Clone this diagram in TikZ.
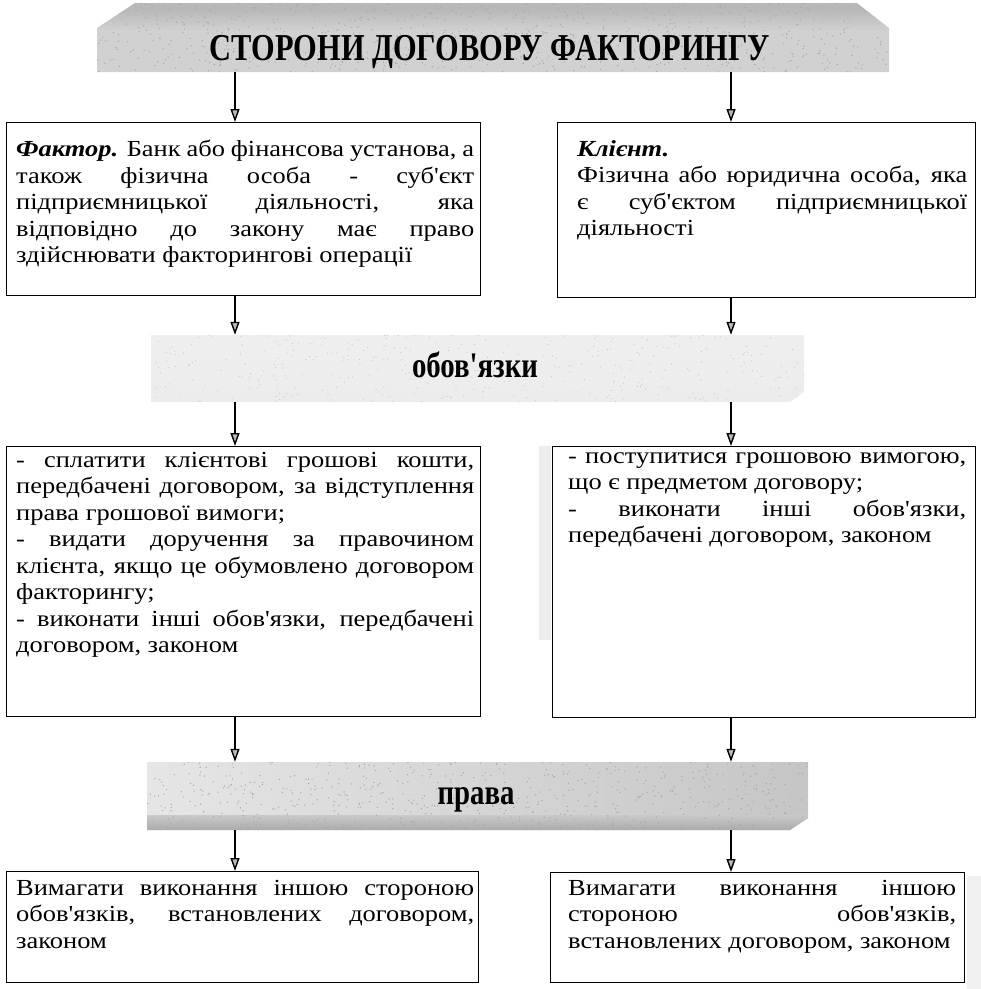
\documentclass[tikz,border=0pt]{standalone}
\usepackage{fontspec}
\usepackage{graphicx}
\usetikzlibrary{arrows.meta}
\newfontfamily\bodyfont{Liberation Serif}[FakeStretch=1.15]
\newfontfamily\headfont{Liberation Serif}[FakeStretch=0.8]
\pgfdeclareverticalshading{bshA}{100bp}{color(0bp)=(gray!66); color(12bp)=(gray!52); color(26bp)=(gray!36); color(55bp)=(gray!36); color(70bp)=(gray!55); color(100bp)=(gray!62)}
\pgfdeclareverticalshading{bshB}{100bp}{color(0bp)=(gray!50); color(12bp)=(gray!32); color(25bp)=(gray!15); color(100bp)=(gray!12)}
\tikzset{
  boxst/.style={draw, line width=1.3pt, inner sep=0pt, anchor=north west},
  txt/.style={anchor=north west, inner sep=0pt, align=justify,
    font={\bodyfont\fontsize{23}{26.5}\selectfont\parindent=0pt\tolerance=10000\hbadness=10000\hyphenpenalty=10000}},
  head/.style={anchor=base, inner sep=0pt, font={\headfont\bfseries\fontsize{36}{38}\selectfont}},
  anc/.style={inner sep=0pt, draw=none},
  arr/.style={line width=1.4pt, -{Triangle[length=13pt,width=9pt,fill=gray!55]}},
  smudge/.style={fill=gray!14, draw=none},
  speck/.style={fill=gray!70, draw=none}
}
\begin{document}
\begin{tikzpicture}[x=1pt,y=-1pt]
\useasboundingbox (0,0) rectangle (981,989);
\pgfmathsetseed{7}
% banner 1
\shade[shading=bshA] (97,72) -- (97,28) -- (135,3) -- (857,3) -- (889,28) -- (889,72) -- cycle;
\begin{scope}
  \clip (97,72) -- (97,28) -- (135,3) -- (857,3) -- (889,28) -- (889,72) -- cycle;
  \foreach \i in {1,...,700} {\fill[speck] ({97+792*rnd},{3+69*rnd}) circle (0.7pt);}
\end{scope}
\node[anc, minimum width=792pt, minimum height=69pt] (b1) at (493,37.5) {};
\node[head, font={\headfont\bfseries\fontsize{38}{40}\selectfont}] (t1) at (490,60) {СТОРОНИ ДОГОВОРУ ФАКТОРИНГУ};
% banner 2
\shade[shading=bshB] (151,335) -- (804,335) -- (804,392) -- (790,402) -- (151,402) -- cycle;
\begin{scope}
  \clip (151,335) -- (804,335) -- (804,392) -- (790,402) -- (151,402) -- cycle;
  \foreach \i in {1,...,350} {\fill[speck, fill=gray!45] ({151+653*rnd},{335+67*rnd}) circle (0.6pt);}
\end{scope}
\node[anc, minimum width=653pt, minimum height=67pt] (b2) at (477.5,368.5) {};
\node[head] (t2) at (475,377) {обов'язки};
% banner 3
\shade[left color=gray!20, right color=gray!45] (147,762) -- (808,762) -- (808,818) -- (790,830) -- (147,830) -- cycle;
\shade[top color=gray!42, bottom color=gray!66] (147,815) -- (808,815) -- (808,818) -- (790,830) -- (147,830) -- cycle;
\begin{scope}
  \clip (147,762) -- (808,762) -- (808,818) -- (790,830) -- (147,830) -- cycle;
  \foreach \i in {1,...,600} {\fill[speck] ({147+661*rnd},{762+68*rnd}) circle (0.7pt);}
\end{scope}
\node[anc, minimum width=661pt, minimum height=68pt] (b3) at (477.5,796) {};
\node[head] (t3) at (476,804) {права};
% smudges
\fill[smudge] (539,446) rectangle (551,640);
\fill[smudge, fill=gray!12] (967,876) rectangle (981,989);
% boxes
\node[boxst, minimum width=474pt, minimum height=173pt] (l1) at (6,122) {};
\node[boxst, minimum width=418pt, minimum height=175pt] (r1) at (557,122) {};
\node[boxst, minimum width=474pt, minimum height=270pt] (l2) at (6,446) {};
\node[boxst, minimum width=423pt, minimum height=271pt] (r2) at (552,446) {};
\node[boxst, minimum width=472pt, minimum height=111pt] (l3) at (6,871) {};
\node[boxst, minimum width=414pt, minimum height=110pt] (r3) at (550,872) {};
% texts
\node[txt, text width=458pt] (l1t) at (16,140) {{\bfseries\itshape Фактор.} Банк або фінансова установа, а\linebreak також фізична особа - суб'єкт\linebreak підприємницької діяльності, яка\linebreak відповідно до закону має право\linebreak здійснювати факторингові операції};
\node[txt, text width=390pt] (r1t) at (577,140) {{\bfseries\itshape Клієнт.}\par Фізична або юридична особа, яка\linebreak є суб'єктом підприємницької\linebreak діяльності};
\node[txt, text width=458pt] (l2t) at (16,452) {- сплатити клієнтові грошові кошти,\linebreak передбачені договором, за відступлення\linebreak права грошової вимоги;\par - видати доручення за правочином\linebreak клієнта, якщо це обумовлено договором\linebreak факторингу;\par - виконати інші обов'язки, передбачені\linebreak договором, законом};
\node[txt, text width=398pt] (r2t) at (568,452) {- поступитися грошовою вимогою,\linebreak що є предметом договору;\par - виконати інші обов'язки,\linebreak передбачені договором, законом};
\node[txt, text width=458pt] (l3t) at (16,880) {Вимагати виконання іншою стороною\linebreak обов'язків, встановлених договором,\linebreak законом};
\node[txt, text width=388pt] (r3t) at (568,880) {Вимагати виконання іншою\linebreak стороною обов'язків,\linebreak встановлених договором, законом};
% arrows
\coordinate (cl) at (235,0);
\coordinate (cr) at (731,0);
\draw[arr] (b1.south -| cl) -- (l1.north -| cl);
\draw[arr] (b1.south -| cr) -- (r1.north -| cr);
\draw[arr] (l1.south -| cl) -- (b2.north -| cl);
\draw[arr] (r1.south -| cr) -- (b2.north -| cr);
\draw[arr] (b2.south -| cl) -- (l2.north -| cl);
\draw[arr] (b2.south -| cr) -- (r2.north -| cr);
\draw[arr] (l2.south -| cl) -- (b3.north -| cl);
\draw[arr] (r2.south -| cr) -- (b3.north -| cr);
\draw[arr] (b3.south -| cl) -- (l3.north -| cl);
\draw[arr] (b3.south -| cr) -- (r3.north -| cr);
\end{tikzpicture}
\end{document}
